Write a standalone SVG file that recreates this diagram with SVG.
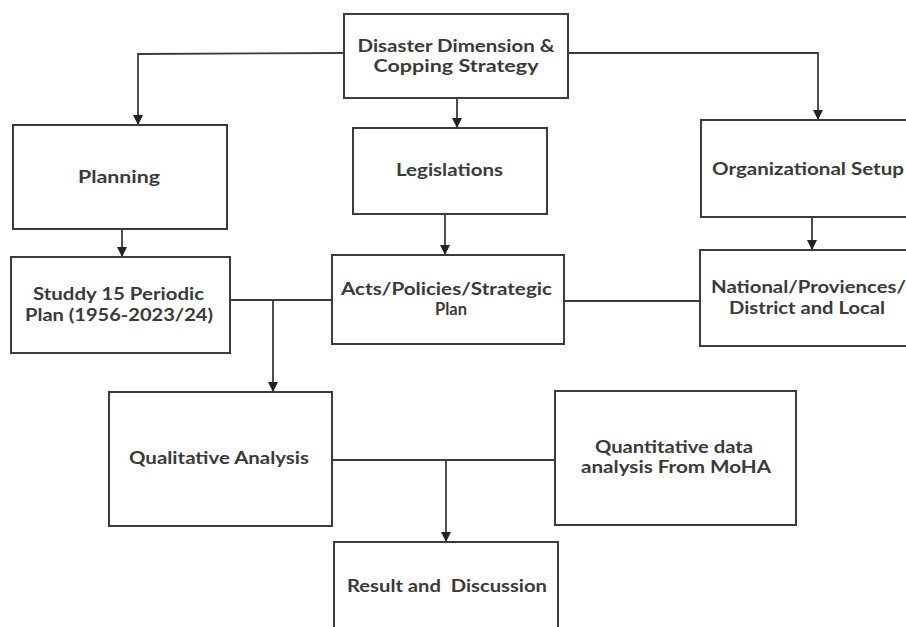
<svg xmlns="http://www.w3.org/2000/svg" width="906" height="627" viewBox="0 0 906 627">
<defs>
<style>
.box{fill:#fff;stroke:#3c3c3c;stroke-width:2}
.con{fill:none;stroke:#3c3c3c;stroke-width:1.8}
.t{font-family:Lato,"Open Sans","Liberation Sans",sans-serif;font-size:16.5px;font-weight:700;fill:#3a3a3a;text-anchor:middle}
</style>
<marker id="arr" markerUnits="userSpaceOnUse" markerWidth="10" markerHeight="10" viewBox="0 0 10 10" refX="10" refY="5" orient="auto">
<path d="M0,0 L10,5 L0,10 z" fill="#222"/>
</marker>
</defs>
<rect width="906" height="627" fill="#fff"/>
<g id="connectors">
<polyline class="con" points="344,53 138,54 138,125" marker-end="url(#arr)"/>
<polyline class="con" points="568,53 818,53 818,120" marker-end="url(#arr)"/>
<line class="con" x1="457" y1="98" x2="457" y2="128" marker-end="url(#arr)"/>
<line class="con" x1="122" y1="229" x2="122" y2="257" marker-end="url(#arr)"/>
<line class="con" x1="445" y1="214" x2="445" y2="255" marker-end="url(#arr)"/>
<line class="con" x1="812" y1="217" x2="812" y2="250" marker-end="url(#arr)"/>
<line class="con" x1="230" y1="300" x2="332" y2="300"/>
<line class="con" x1="564" y1="301" x2="700" y2="301"/>
<line class="con" x1="273" y1="300" x2="273" y2="392" marker-end="url(#arr)"/>
<line class="con" x1="332" y1="460" x2="555" y2="460"/>
<line class="con" x1="446" y1="460" x2="446" y2="542" marker-end="url(#arr)"/>
</g>
<g id="disaster">
<rect class="box" x="344" y="14" width="224" height="84"/>
<text class="t" x="456" y="52" textLength="197" lengthAdjust="spacingAndGlyphs">Disaster Dimension &amp;</text>
<text class="t" x="456" y="72" textLength="165" lengthAdjust="spacingAndGlyphs">Copping Strategy</text>
</g>
<g id="planning">
<rect class="box" x="13" y="125" width="214" height="104"/>
<text class="t" x="119" y="183" textLength="82" lengthAdjust="spacingAndGlyphs">Planning</text>
</g>
<g id="legislations">
<rect class="box" x="353" y="128" width="194" height="86"/>
<text class="t" x="449.5" y="176" textLength="107" lengthAdjust="spacingAndGlyphs">Legislations</text>
</g>
<g id="organizational">
<rect class="box" x="701" y="120" width="215" height="97"/>
<text class="t" x="808" y="175" textLength="192" lengthAdjust="spacingAndGlyphs">Organizational Setup</text>
</g>
<g id="studdy">
<rect class="box" x="11" y="257" width="219" height="96"/>
<text class="t" x="118.5" y="300" textLength="171" lengthAdjust="spacingAndGlyphs">Studdy 15 Periodic</text>
<text class="t" x="119" y="321" textLength="188" lengthAdjust="spacingAndGlyphs">Plan (1956-2023/24)</text>
</g>
<g id="acts">
<rect class="box" x="332" y="255" width="232" height="89"/>
<text class="t" x="446.5" y="295" textLength="211" lengthAdjust="spacingAndGlyphs">Acts/Policies/Strategic</text>
<text class="t" x="451" y="315">Plan</text>
</g>
<g id="national">
<rect class="box" x="700" y="250" width="216" height="96"/>
<text class="t" x="808.5" y="293" textLength="195" lengthAdjust="spacingAndGlyphs">National/Proviences/</text>
<text class="t" x="807" y="314" textLength="156" lengthAdjust="spacingAndGlyphs">District and Local</text>
</g>
<g id="qualitative">
<rect class="box" x="109" y="392" width="223" height="134"/>
<text class="t" x="219" y="464" textLength="180" lengthAdjust="spacingAndGlyphs">Qualitative Analysis</text>
</g>
<g id="quantitative">
<rect class="box" x="555" y="391" width="241" height="134"/>
<text class="t" x="674" y="453" textLength="158" lengthAdjust="spacingAndGlyphs">Quantitative data</text>
<text class="t" x="676" y="473" textLength="190" lengthAdjust="spacingAndGlyphs">analysis From MoHA</text>
</g>
<g id="result">
<rect class="box" x="334" y="542" width="224" height="100"/>
<text class="t" x="447" y="592" textLength="200" lengthAdjust="spacingAndGlyphs" xml:space="preserve">Result and  Discussion</text>
</g>
</svg>
